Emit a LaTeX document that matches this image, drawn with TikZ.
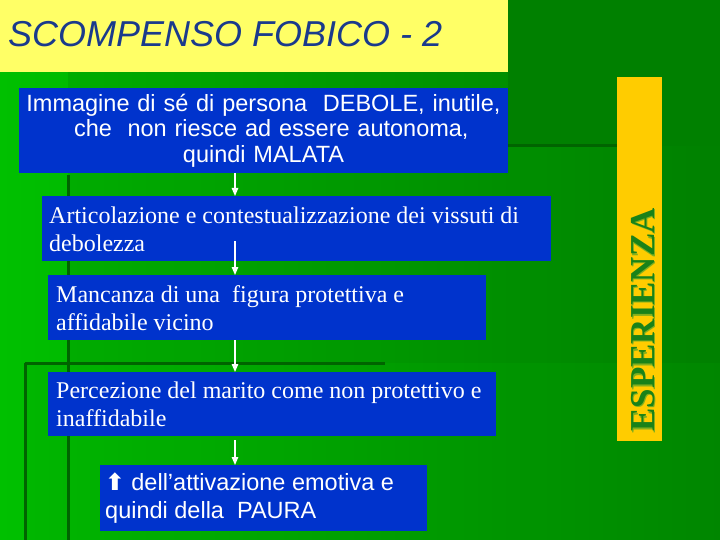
\documentclass[tikz,border=0pt]{standalone}
\usepackage{fontspec}
\setmainfont{Liberation Serif}
\newfontfamily\arialf{Liberation Sans}
\newfontfamily\dejavu{DejaVu Sans}
\usetikzlibrary{arrows.meta}
\definecolor{bgleft}{RGB}{0,192,0}
\definecolor{bgright}{RGB}{0,140,0}
\definecolor{darkline}{RGB}{0,100,0}
\definecolor{titleyellow}{RGB}{255,255,102}
\definecolor{titleblue}{RGB}{26,58,140}
\definecolor{boxblue}{RGB}{0,51,204}
\definecolor{baryellow}{RGB}{255,204,0}
\definecolor{espgreen}{RGB}{25,130,25}
\definecolor{espshadow}{RGB}{130,175,30}
\definecolor{topgreen}{RGB}{0,128,0}
\tikzset{
  bluebox/.style={fill=boxblue, anchor=north west, inner sep=0pt, outer sep=0pt},
  boxtext/.style={anchor=west, inner sep=0pt, text=white, align=left, font=\fontsize{24}{28}\selectfont},
  flowarrow/.style={draw=white, line width=1.3pt, -{Triangle[width=6.5pt,length=8pt]}},
  bgline/.style={draw=darkline, line width=3pt},
}
\begin{document}
\begin{tikzpicture}[x=1pt,y=-1pt]
\useasboundingbox (0,0) rectangle (720,540);
% background
\shade[left color=bgleft, right color=bgright] (0,0) rectangle (720,540);
\fill[black, opacity=0.08] (68,72) rectangle (720,363);
\fill[black, opacity=0.04] (25,363) rectangle (720,540);
\fill[topgreen] (508,0) rectangle (720,146);
\draw[bgline] (68,175) -- (68,540);
\draw[bgline] (25,363) -- (385,363);
\draw[bgline] (25,363) -- (25,540);
\draw[bgline] (68,146) -- (617,146);
% title
\fill[titleyellow] (0,0) rectangle (508,72);
\node[anchor=base west, inner sep=0pt, text=titleblue, font=\arialf\itshape\fontsize{36}{40}\selectfont] (title) at (8,47) {SCOMPENSO FOBICO - 2};
% side bar
\node[fill=baryellow, anchor=north west, minimum width=45pt, minimum height=364pt, inner sep=0pt] (bar) at (617,77) {};
\node[rotate=90, anchor=south west, inner sep=0pt, text=espshadow, font=\bfseries\fontsize{35}{40}\selectfont] (espsh) at (656.5,433.5) {ESPERIENZA};
\node[rotate=90, anchor=south west, inner sep=0pt, text=espgreen, font=\bfseries\fontsize{35}{40}\selectfont] (esp) at (655,432) {ESPERIENZA};
% boxes
\node[bluebox, text=white, minimum width=489pt, minimum height=85pt, text width=489pt, align=center, font=\arialf\fontsize{23.5}{25.5}\selectfont] (b1) at (19,88)
  {Immagine di sé di persona\ \ DEBOLE, inutile,\\ \ \ che\ \ non riesce ad essere autonoma,\\ quindi MALATA};
\node[bluebox, minimum width=509pt, minimum height=65pt] (b2) at (42,196) {};
\node[boxtext] (t2) at (49,229)
  {Articolazione e contestualizzazione dei vissuti di\\debolezza};
\node[bluebox, minimum width=438pt, minimum height=65pt] (b3) at (48,275) {};
\node[boxtext] (t3) at (56,308)
  {Mancanza di una\ \ figura protettiva e\\affidabile vicino};
\node[bluebox, minimum width=448pt, minimum height=64pt] (b4) at (48,372) {};
\node[boxtext] (t4) at (56,404)
  {Percezione del marito come non protettivo e\\inaffidabile};
\node[bluebox, minimum width=327pt, minimum height=66pt] (b5) at (100,465) {};
\node[boxtext, font=\arialf\fontsize{23.5}{28}\selectfont] (t5) at (105,498)
  {{\dejavu\bfseries ⬆} dell’attivazione emotiva e\\quindi della\ \ PAURA};
% arrows
\coordinate (a2s) at (235,241);
\coordinate (a4s) at (235,440);
\draw[flowarrow] (b1.south -| a2s) -- (b2.north -| a2s);
\draw[flowarrow] (a2s) -- (b3.north -| a2s);
\draw[flowarrow] (b3.south -| a2s) -- (b4.north -| a2s);
\draw[flowarrow] (a4s) -- (b5.north -| a4s);
\end{tikzpicture}
\end{document}
